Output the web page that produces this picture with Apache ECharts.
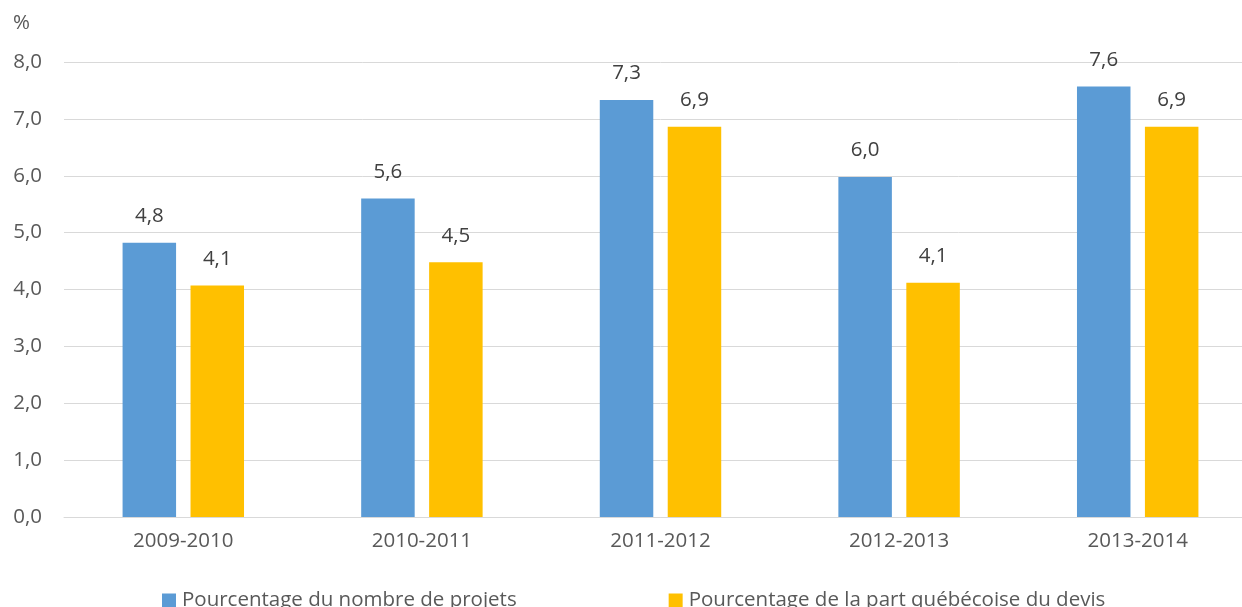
<!DOCTYPE html>
<html><head><meta charset="utf-8">
<script src="https://cdn.jsdelivr.net/npm/echarts@6/dist/echarts.min.js"></script>
<style>html,body{margin:0;padding:0;background:#fff;overflow:hidden}#c{width:1257px;height:607px}</style>
</head><body><div id="c"></div>
<script>
const categories = ['2009-2010','2010-2011','2011-2012','2012-2013','2013-2014'];
const seriesNames = ['Pourcentage du nombre de projets','Pourcentage de la part québécoise du devis'];
const projets = [4.82, 5.60, 7.33, 5.98, 7.57];
const devis = [4.07, 4.48, 6.86, 4.12, 6.86];
const yTicks = [0,1,2,3,4,5,6,7,8];
const unitLabel = '%';

const fmt = v => v.toFixed(1).replace('.', ',');
const font = '"Open Sans", "Noto Sans", sans-serif';
const fs = 20.5;
const chart = echarts.init(document.getElementById('c'));
chart.setOption({
  animation: false,
  textStyle: {fontFamily: font},
  title: {text: unitLabel, left: 8, top: 8, textStyle: {fontSize: fs, fontWeight: 'normal', color: '#595959', fontFamily: font}},
  grid: {left: 64, right: 0, top: 62, bottom: 90, containLabel: false},
  legend: {
    left: 157, top: 585, itemWidth: 14, itemHeight: 14, itemGap: 152,
    icon: 'rect',
    textStyle: {fontSize: 20.5, color: '#595959', fontFamily: font, padding: [0,0,0,1]},
    data: seriesNames
  },
  xAxis: {
    type: 'category', data: categories,
    axisLine: {lineStyle: {color: '#d9d9d9', width: 1}},
    axisTick: {show: false},
    axisLabel: {fontSize: fs, color: '#595959', margin: 14, fontFamily: font}
  },
  yAxis: {
    type: 'value', min: yTicks[0], max: yTicks[yTicks.length-1], interval: 1,
    axisLine: {show: false}, axisTick: {show: false},
    splitLine: {lineStyle: {color: '#d9d9d9', width: 1}},
    axisLabel: {fontSize: fs, color: '#595959', margin: 22, formatter: v => fmt(v), fontFamily: font}
  },
  series: [
    {name: seriesNames[0], type: 'bar', data: projets, barWidth: 53.5, barGap: '27%',
     itemStyle: {color: '#5b9bd5'},
     label: {show: true, position: 'top', distance: 16, fontSize: fs, color: '#404040', formatter: p => fmt(p.value), fontFamily: font}},
    {name: seriesNames[1], type: 'bar', data: devis, barWidth: 53.5,
     itemStyle: {color: '#ffc000'},
     label: {show: true, position: 'top', distance: 16, fontSize: fs, color: '#404040', formatter: p => fmt(p.value), fontFamily: font}}
  ]
});
</script></body></html>
